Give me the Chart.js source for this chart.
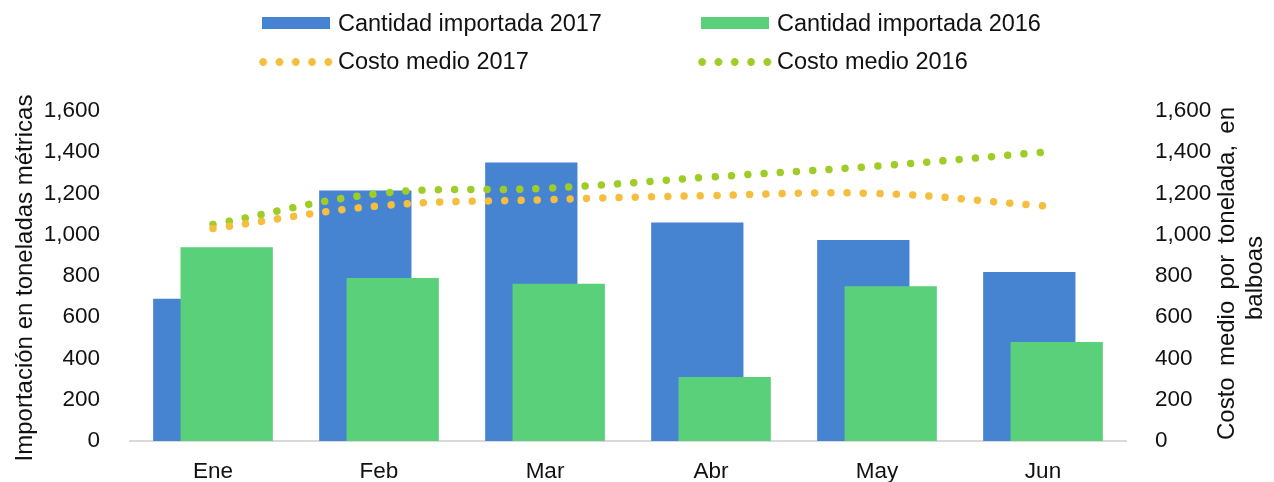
<!DOCTYPE html>
<html>
<head>
<meta charset="utf-8">
<script src="https://cdn.jsdelivr.net/npm/chart.js@4.4.1/dist/chart.umd.min.js"></script>
<style>
  html, body { margin: 0; padding: 0; background: #fff; overflow: hidden; }
  #wrap { position: relative; width: 1274px; height: 482px; overflow: hidden; }
  canvas { position: absolute; left: 0; top: 0; }
  .lg-text { position: absolute; font: 23.5px "Liberation Sans", Arial, sans-serif; line-height: 23.5px; color: #111; white-space: nowrap; }
  .lg-sym { position: absolute; }
</style>
</head>
<body>
<div id="wrap">
  <canvas id="chart" width="1274" height="482"></canvas>
  <div id="legend"></div>
</div>
<script>
const months = ["Ene", "Feb", "Mar", "Abr", "May", "Jun"];
const qty2017 = [690, 1215, 1350, 1060, 975, 820];
const qty2016 = [940, 790, 762, 310, 750, 480];
const cost2017 = [1030, 1140, 1170, 1190, 1200, 1140];
const cost2016 = [1050, 1200, 1225, 1280, 1333, 1400];

const leftTitle = "Importación en toneladas métricas";
const rightTitle1 = ["Costo", "medio", "por", "tonelada,", "en"];
const rightTitle2 = "balboas";

const BLUE = "#4683d1";
const GREEN = "#5bd07a";
const ORANGE = "#f6be3f";
const LIME = "#9fcd28";
const FONT = '"Liberation Sans", Arial, sans-serif';

const tickFont = { family: FONT, size: 22.5 };

// green bars must sit on top of the blue ones, but on the right side of the group
const layering = {
  id: "layering",
  beforeDatasetDraw(chart, args) {
    if (args.index === 1) return false;
  },
  afterDatasetDraw(chart, args) {
    if (args.index === 0) {
      const meta = chart.getDatasetMeta(1);
      if (!meta.hidden) meta.controller.draw();
    }
  }
};

const axisTitles = {
  id: "axisTitles",
  afterDraw(chart) {
    const { ctx, chartArea: a } = chart;
    const midY = (a.top + a.bottom) / 2;
    ctx.save();
    ctx.fillStyle = "#111";
    ctx.font = "24px " + FONT;
    ctx.textBaseline = "middle";

    ctx.save();
    ctx.translate(25, midY + 2);
    ctx.rotate(-Math.PI / 2);
    ctx.textAlign = "center";
    ctx.fillText(leftTitle, 0, 0);
    ctx.restore();

    // right title, first line justified
    ctx.save();
    ctx.translate(a.right + 101, midY - 2.5);
    ctx.rotate(-Math.PI / 2);
    ctx.textAlign = "left";
    const total = 333;
    const widths = rightTitle1.map(w => ctx.measureText(w).width);
    const gap = (total - widths.reduce((s, w) => s + w, 0)) / (rightTitle1.length - 1);
    let x = -total / 2;
    rightTitle1.forEach((w, i) => {
      ctx.fillText(w, x, 0);
      x += widths[i] + gap;
    });
    ctx.restore();

    ctx.save();
    ctx.translate(a.right + 129, midY + 2);
    ctx.rotate(-Math.PI / 2);
    ctx.textAlign = "center";
    ctx.fillText(rightTitle2, 0, 0);
    ctx.restore();

    ctx.restore();
  }
};

const chart = new Chart(document.getElementById("chart"), {
  type: "bar",
  data: {
    labels: months,
    datasets: [
      {
        label: "Cantidad importada 2017",
        data: qty2017,
        backgroundColor: BLUE,
        categoryPercentage: 0.33,
        barPercentage: 3.37,
        yAxisID: "y"
      },
      {
        label: "Cantidad importada 2016",
        data: qty2016,
        backgroundColor: GREEN,
        categoryPercentage: 0.33,
        barPercentage: 3.37,
        yAxisID: "y"
      },
      {
        type: "line",
        label: "Costo medio 2017",
        data: cost2017,
        borderColor: ORANGE,
        backgroundColor: ORANGE,
        borderWidth: 7.5,
        borderDash: [0.01, 16.3],
        borderCapStyle: "round",
        pointRadius: 0,
        tension: 0.4,
        order: -1,
        yAxisID: "y2"
      },
      {
        type: "line",
        label: "Costo medio 2016",
        data: cost2016,
        borderColor: LIME,
        backgroundColor: LIME,
        borderWidth: 7.5,
        borderDash: [0.01, 16.3],
        borderCapStyle: "round",
        pointRadius: 0,
        tension: 0.4,
        order: -1,
        yAxisID: "y2"
      }
    ]
  },
  options: {
    responsive: false,
    animation: false,
    layout: { padding: { top: 111, left: 0, right: 0, bottom: 0 } },
    plugins: {
      legend: { display: false },
      tooltip: { enabled: false }
    },
    scales: {
      x: {
        grid: { display: false },
        border: { color: "#d9d9d9", width: 2 },
        ticks: { font: tickFont, color: "#111", padding: 9 },
        afterFit(s) { s.height = 41; }
      },
      y: {
        position: "left",
        min: 0,
        max: 1600,
        grid: { display: false },
        border: { display: false },
        ticks: {
          stepSize: 200,
          font: tickFont,
          color: "#111",
          padding: 22,
          callback: v => v.toLocaleString("en-US")
        },
        afterFit(s) { s.width = 130; }
      },
      y2: {
        position: "right",
        min: 0,
        max: 1600,
        grid: { display: false },
        border: { display: false },
        ticks: {
          stepSize: 200,
          font: tickFont,
          color: "#111",
          padding: 21,
          callback: v => v.toLocaleString("en-US")
        },
        afterFit(s) { s.width = 148; }
      }
    }
  },
  plugins: [layering, axisTitles]
});

// legend in two aligned columns, built from the datasets
const legend = document.getElementById("legend");
const slots = [
  { left: 262, top: 11.8 },
  { left: 701, top: 11.8 },
  { left: 262, top: 50.2 },
  { left: 701, top: 50.2 }
];
const legendOrder = [0, 1, 2, 3];
legendOrder.forEach((di, i) => {
  const ds = chart.data.datasets[di];
  const slot = slots[i];
  const sym = document.createElement("div");
  sym.className = "lg-sym";
  if (ds.type === "line") {
    sym.style.left = (slot.left - 7) + "px";
    sym.style.top = (slot.top + 6) + "px";
    sym.style.width = "81.5px";
    sym.style.height = "12px";
    sym.style.background = "radial-gradient(circle, " + ds.borderColor + " 3.6px, rgba(255,255,255,0) 4.2px) 0 0 / 16.3px 12px repeat-x";
  } else {
    sym.style.left = slot.left + "px";
    sym.style.top = (slot.top + 5.5) + "px";
    sym.style.width = "68px";
    sym.style.height = "12px";
    sym.style.background = ds.backgroundColor;
  }
  legend.appendChild(sym);
  const txt = document.createElement("div");
  txt.className = "lg-text";
  txt.style.left = (slot.left + 76) + "px";
  txt.style.top = slot.top + "px";
  txt.textContent = ds.label;
  legend.appendChild(txt);
});
</script>
</body>
</html>
